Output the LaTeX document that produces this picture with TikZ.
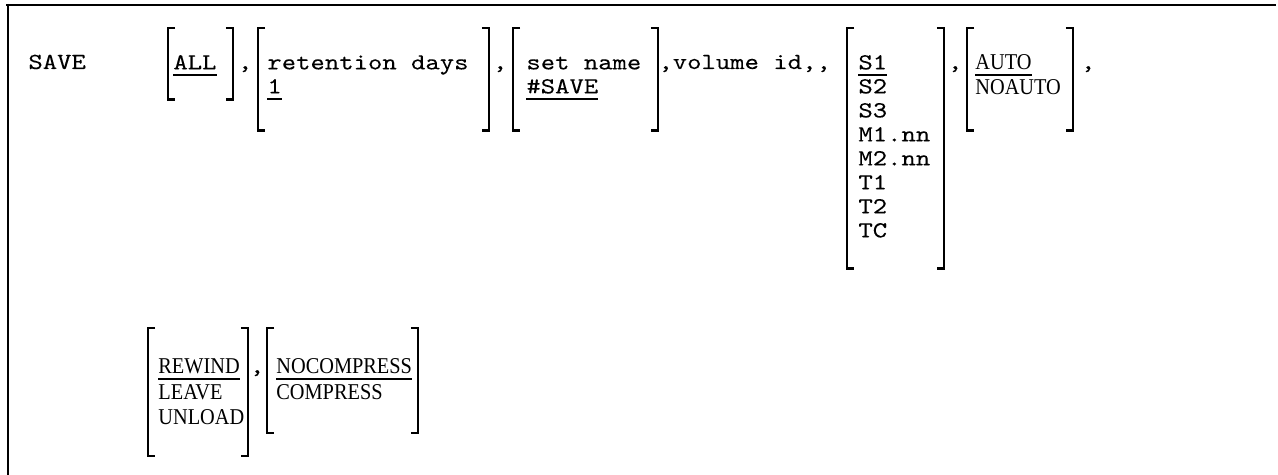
\documentclass[tikz,border=0pt]{standalone}
\usepackage{fontspec}
\newfontfamily\cour[FakeStretch=1.19, FakeBold=0.1]{lmmono10-regular.otf}
\newfontfamily\romfont[FakeStretch=0.9]{Liberation Serif}

% underlined default value
\newcommand\dft[1]{\leavevmode\setbox0\hbox{#1}\rlap{\rule[-3.2pt]{\wd0}{0.9pt}}\box0}

\tikzstyle{grp} = [rectangle,
                   anchor=north west,
                   inner ysep=0pt,
                   text height=20.5pt,
                   execute at begin node={\spaceskip=0pt\xspaceskip=0pt\relax},
                   font=\cour\fontsize{11.5}{12}\selectfont]
\tikzstyle{grpr} = [grp,
                    font=\romfont\fontsize{11.3}{12.8}\selectfont]
\tikzstyle{txt} = [inner sep=0pt,
                   anchor=base west,
                   font=\cour\fontsize{11.5}{12}\selectfont]
\tikzstyle{cma} = [txt,
                   anchor=base]
\tikzstyle{brk} = [line width=1.3pt,
                   line join=miter]
\tikzstyle{frame} = [line width=1.4pt]

\begin{document}
\begin{tikzpicture}[x=0.5pt, y=-0.5pt]
  \useasboundingbox (0,0) rectangle (1278,475);
  % box open at the right and the bottom
  \draw[frame] (6,5) -- (1276,5);
  \draw[frame] (8,4) -- (8,475);

  % first line
  \node[txt] (cmd) at (28,69) {SAVE};
  \node[grp, inner xsep=2.5pt, text width=27pt, text depth=15pt] (all) at (168,28) {\dft{ALL}};
  \node[cma] (c1) at (245,69) {,};
  \node[grp, inner xsep=4.5pt, text width=106pt, text depth=30.5pt] (days) at (258,28)
       {retention days\\\dft{1}};
  \node[cma] (c2) at (500,69) {,};
  \node[grp, inner xsep=6.5pt, text width=59pt, text depth=30.5pt] (setn) at (513,28)
       {set name\\\dft{\#SAVE}};
  \node[txt] (vid) at (658,69) {,volume id,,};
  \node[grp, inner xsep=5.5pt, text width=37pt, text depth=99.5pt] (vol) at (847,28)
       {\dft{S1}\\S2\\S3\\M1.nn\\M2.nn\\T1\\T2\\TC};
  \node[cma] (c3) at (955,69) {,};
  \node[grpr, inner xsep=4pt, text width=44.5pt, text depth=30.5pt] (auto) at (967,28)
       {\dft{AUTO}\\NOAUTO};
  \node[cma] (c4) at (1088,69) {,};

  % second line
  \node[grpr, inner xsep=5pt, text width=39.5pt, text height=22.5pt, text depth=41pt] (rew) at (148,328)
       {\dft{REWIND}\\LEAVE\\UNLOAD};
  \node[cma] (c5) at (257,373) {,};
  \node[grpr, inner xsep=4.5pt, text width=66pt, text height=22.5pt, text depth=29.5pt] (cmp) at (267,328)
       {\dft{NOCOMPRESS}\\COMPRESS};

  \foreach \n in {all,days,setn,vol,auto,rew,cmp} {
    \draw[brk] ([xshift=3.5pt]\n.north west) -- (\n.north west) -- (\n.south west) -- ([xshift=3.5pt]\n.south west);
    \draw[brk] ([xshift=-3.5pt]\n.north east) -- (\n.north east) -- (\n.south east) -- ([xshift=-3.5pt]\n.south east);
  }
\end{tikzpicture}
\end{document}
